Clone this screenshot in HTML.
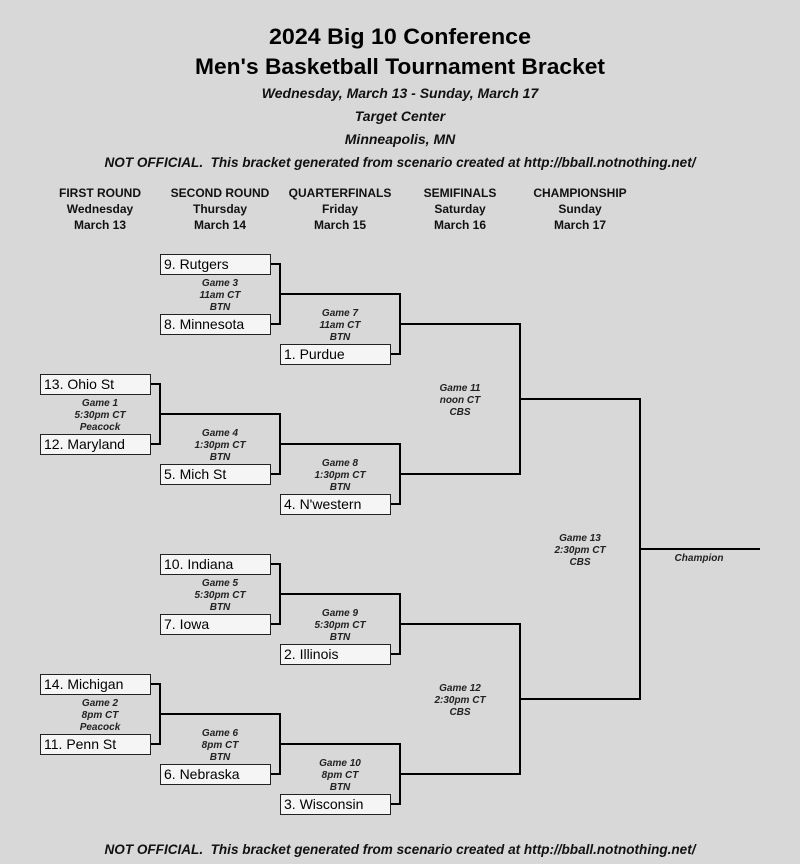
<!DOCTYPE html>
<html><head><meta charset="utf-8"><style>
html,body{margin:0;padding:0;background:#d8d8d8;}
svg{display:block;font-family:"Liberation Sans",sans-serif;}
.t{font-weight:bold;font-size:22px;text-anchor:middle;fill:#000}
.s{font-style:italic;font-weight:bold;font-size:14px;text-anchor:middle;fill:#111}
.h{font-weight:bold;font-size:12px;text-anchor:middle;fill:#111}
.g{font-style:italic;font-weight:bold;font-size:10px;text-anchor:middle;fill:#222}
.n{font-size:14px;fill:#000}
rect{fill:#f5f5f5;stroke:#222;stroke-width:1}
path{fill:none;stroke:#000;stroke-width:2}
</style></head><body>
<svg width="800" height="864" viewBox="0 0 800 864">
<rect x="0" y="0" width="800" height="864" style="fill:#d8d8d8;stroke:none"/>
<text class="t" x="400" y="44" textLength="262" lengthAdjust="spacingAndGlyphs">2024 Big 10 Conference</text>
<text class="t" x="400" y="74" textLength="410" lengthAdjust="spacingAndGlyphs">Men's Basketball Tournament Bracket</text>
<text class="s" x="400" y="98">Wednesday, March 13 - Sunday, March 17</text>
<text class="s" x="400" y="121">Target Center</text>
<text class="s" x="400" y="144">Minneapolis, MN</text>
<text class="s" x="400" y="167" textLength="591" lengthAdjust="spacingAndGlyphs">NOT OFFICIAL.&#160; This bracket generated from scenario created at http://bball.notnothing.net/</text>
<text class="s" x="400" y="854" textLength="591" lengthAdjust="spacingAndGlyphs">NOT OFFICIAL.&#160; This bracket generated from scenario created at http://bball.notnothing.net/</text>

<g class="h">
<text x="100" y="197">FIRST ROUND</text><text x="100" y="213">Wednesday</text><text x="100" y="229">March 13</text>
<text x="220" y="197">SECOND ROUND</text><text x="220" y="213">Thursday</text><text x="220" y="229">March 14</text>
<text x="340" y="197">QUARTERFINALS</text><text x="340" y="213">Friday</text><text x="340" y="229">March 15</text>
<text x="460" y="197">SEMIFINALS</text><text x="460" y="213">Saturday</text><text x="460" y="229">March 16</text>
<text x="580" y="197">CHAMPIONSHIP</text><text x="580" y="213">Sunday</text><text x="580" y="229">March 17</text>
</g>

<path d="M270 264H280V324H270M280 294H400V354H390M400 324H520V474H400M520 399H640V699H520M640 549H760"/>
<path d="M150 384H160V444H150M160 414H280V474H270M280 444H400V504H390"/>
<path d="M270 564H280V624H270M280 594H400V654H390M400 624H520V774H400"/>
<path d="M150 684H160V744H150M160 714H280V774H270M280 744H400V804H390"/>

<g>
<rect x="160.5" y="254.5" width="110" height="20"/><text class="n" x="164" y="269">9. Rutgers</text>
<rect x="160.5" y="314.5" width="110" height="20"/><text class="n" x="164" y="329">8. Minnesota</text>
<rect x="280.5" y="344.5" width="110" height="20"/><text class="n" x="284" y="359">1. Purdue</text>
<rect x="40.5" y="374.5" width="110" height="20"/><text class="n" x="44" y="389">13. Ohio St</text>
<rect x="40.5" y="434.5" width="110" height="20"/><text class="n" x="44" y="449">12. Maryland</text>
<rect x="160.5" y="464.5" width="110" height="20"/><text class="n" x="164" y="479">5. Mich St</text>
<rect x="280.5" y="494.5" width="110" height="20"/><text class="n" x="284" y="509">4. N'western</text>
<rect x="160.5" y="554.5" width="110" height="20"/><text class="n" x="164" y="569">10. Indiana</text>
<rect x="160.5" y="614.5" width="110" height="20"/><text class="n" x="164" y="629">7. Iowa</text>
<rect x="280.5" y="644.5" width="110" height="20"/><text class="n" x="284" y="659">2. Illinois</text>
<rect x="40.5" y="674.5" width="110" height="20"/><text class="n" x="44" y="689">14. Michigan</text>
<rect x="40.5" y="734.5" width="110" height="20"/><text class="n" x="44" y="749">11. Penn St</text>
<rect x="160.5" y="764.5" width="110" height="20"/><text class="n" x="164" y="779">6. Nebraska</text>
<rect x="280.5" y="794.5" width="110" height="20"/><text class="n" x="284" y="809">3. Wisconsin</text>
</g>

<g class="g">
<text x="220" y="286">Game 3</text><text x="220" y="298">11am CT</text><text x="220" y="310">BTN</text>
<text x="340" y="316">Game 7</text><text x="340" y="328">11am CT</text><text x="340" y="340">BTN</text>
<text x="100" y="406">Game 1</text><text x="100" y="418">5:30pm CT</text><text x="100" y="430">Peacock</text>
<text x="220" y="436">Game 4</text><text x="220" y="448">1:30pm CT</text><text x="220" y="460">BTN</text>
<text x="340" y="466">Game 8</text><text x="340" y="478">1:30pm CT</text><text x="340" y="490">BTN</text>
<text x="460" y="391">Game 11</text><text x="460" y="403">noon CT</text><text x="460" y="415">CBS</text>
<text x="580" y="541">Game 13</text><text x="580" y="553">2:30pm CT</text><text x="580" y="565">CBS</text>
<text x="699" y="561">Champion</text>
<text x="220" y="586">Game 5</text><text x="220" y="598">5:30pm CT</text><text x="220" y="610">BTN</text>
<text x="340" y="616">Game 9</text><text x="340" y="628">5:30pm CT</text><text x="340" y="640">BTN</text>
<text x="460" y="691">Game 12</text><text x="460" y="703">2:30pm CT</text><text x="460" y="715">CBS</text>
<text x="100" y="706">Game 2</text><text x="100" y="718">8pm CT</text><text x="100" y="730">Peacock</text>
<text x="220" y="736">Game 6</text><text x="220" y="748">8pm CT</text><text x="220" y="760">BTN</text>
<text x="340" y="766">Game 10</text><text x="340" y="778">8pm CT</text><text x="340" y="790">BTN</text>
</g>
</svg>
</body></html>
